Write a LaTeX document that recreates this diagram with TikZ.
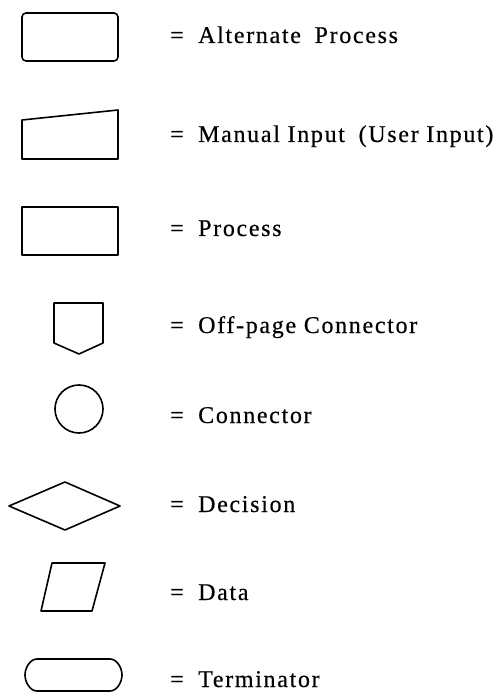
\documentclass[tikz,border=0pt]{standalone}
\usepackage{fontspec}
\setmainfont{Liberation Serif}[LetterSpace=7,FakeBold=0.4]
\begin{document}
\begin{tikzpicture}[x=1pt,y=-1pt,
  shp/.style={draw=black,line width=1.6pt,line join=round},
  eq/.style={anchor=base west,inner sep=0pt,font=\fontsize{24}{28}\selectfont},
  lbl/.style={anchor=base west,inner sep=0pt,font=\fontsize{24}{28}\selectfont}]
\useasboundingbox (0,0) rectangle (501,692);
% shapes
\draw[shp,rounded corners=4pt] (22,13) rectangle (118,61);
\draw[shp] (22,120) -- (22,159) -- (118,159) -- (118,110) -- cycle;
\draw[shp] (22,207) rectangle (118,255);
\draw[shp] (54,303) -- (103,303) -- (103,343) -- (79,354) -- (54,343) -- cycle;
\draw[shp] (79,409) circle[radius=24pt];
\draw[shp] (9,506) -- (65,482) -- (120,506) -- (65,530) -- cycle;
\draw[shp] (52,563) -- (105,563) -- (92,611) -- (41,611) -- cycle;
\draw[shp] (37,659) -- (110,659) .. controls (117,659) and (122,668) .. (122,675)
  .. controls (122,682) and (117,691) .. (110,691) -- (37,691)
  .. controls (30,691) and (25,682) .. (25,675) .. controls (25,668) and (30,659) .. (37,659);
% labels
\node[eq] (e1) at (170,43) {=};
\node[lbl] (t1) at (198,43) {Alternate\hspace{0.25em} Process};
\node[eq] (e2) at (170,142) {=};
\node[lbl] (t2) at (198,142) {Manual Input\hspace{0.25em} (User Input)};
\node[eq] (e3) at (170,236) {=};
\node[lbl] (t3) at (198,236) {Process};
\node[eq] (e4) at (170,333) {=};
\node[lbl] (t4) at (198,333) {Off-page Connector};
\node[eq] (e5) at (170,423) {=};
\node[lbl] (t5) at (198,423) {Connector};
\node[eq] (e6) at (170,512) {=};
\node[lbl] (t6) at (198,512) {Decision};
\node[eq] (e7) at (170,600) {=};
\node[lbl] (t7) at (198,600) {Data};
\node[eq] (e8) at (170,687) {=};
\node[lbl] (t8) at (198,687) {Terminator};
\end{tikzpicture}
\end{document}
